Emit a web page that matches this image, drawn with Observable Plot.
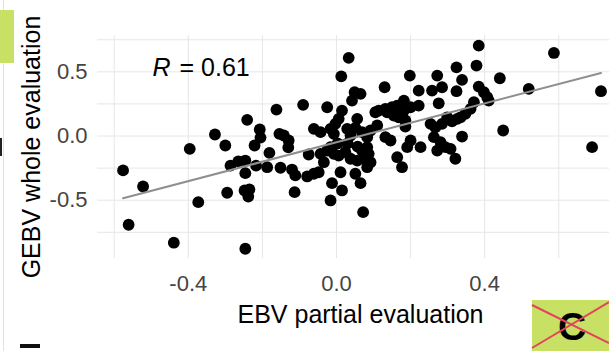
<!DOCTYPE html>
<html>
<head>
<meta charset="utf-8">
<script src="https://cdn.jsdelivr.net/npm/d3@7"></script>
<script src="https://cdn.jsdelivr.net/npm/@observablehq/plot@0.6"></script>
<style>
  html, body { margin: 0; padding: 0; background: #ffffff; }
  #wrap { position: relative; width: 609px; height: 351px; overflow: hidden; font-family: "Liberation Sans", Arial, sans-serif; }
  #deco { position: absolute; left: 0; top: 0; pointer-events: none; }
</style>
</head>
<body>
<div id="wrap">
  <div id="chart"></div>
  <svg id="deco" width="609" height="351" xmlns="http://www.w3.org/2000/svg">
    <line x1="3.5" y1="0" x2="3.5" y2="351" stroke="#e2e2e2" stroke-width="1"/>
    <rect x="0" y="10" width="14" height="53" fill="#c8e064"/>
    <rect x="0" y="138" width="2" height="18" fill="#222"/>
    <rect x="20" y="344" width="20" height="4" fill="#111"/>
    <rect x="532" y="300" width="77" height="51" fill="#c8e064"/>
    <text x="572" y="340" text-anchor="middle" font-family="Liberation Sans, Arial, sans-serif" font-weight="bold" font-size="39" fill="#000">C</text>
    <line x1="532" y1="305" x2="609" y2="343" stroke="#e4435e" stroke-width="2"/>
    <line x1="532" y1="348" x2="609" y2="302" stroke="#e4435e" stroke-width="2"/>
  </svg>
</div>
<script>
// EBV partial evaluation (x) and GEBV whole evaluation (y)
const ebvPartial = [
  -0.576, -0.522, -0.561, -0.439, -0.396, -0.373, -0.328, -0.300, -0.295, -0.246,
  -0.241, -0.286, -0.265, -0.246, -0.246, -0.248, -0.235, -0.238, -0.221, -0.207,
  -0.205, -0.217, -0.187, -0.181, -0.162, -0.154, -0.151, -0.142, -0.129, -0.130,
  -0.120, -0.111, -0.113, -0.090, -0.075, -0.079, -0.061, -0.048, -0.061, -0.043,
  -0.043, -0.034, -0.025, -0.016, -0.007, -0.007, 0.006, -0.003, 0.006, 0.015,
  0.013, 0.033, 0.049, 0.042, 0.029, 0.038, 0.056, 0.051, 0.069, 0.083,
  0.024, 0.038, 0.056, 0.069, 0.074, 0.011, 0.051, -0.012, 0.015, 0.065,
  -0.016, 0.072, 0.065, -0.025, -0.016, 0.003, 0.030, 0.057, 0.083, 0.087,
  0.092, 0.083, 0.092, 0.110, 0.132, 0.146, 0.130, 0.198, 0.272, 0.222,
  0.258, 0.285, 0.276, 0.182, 0.164, 0.150, 0.132, 0.114, 0.105, 0.182,
  0.200, 0.222, 0.137, 0.155, 0.168, 0.186, 0.186, 0.254, 0.267, 0.285,
  0.191, 0.200, 0.263, 0.281, 0.294, 0.227, 0.272, 0.164, 0.177, 0.308,
  0.321, 0.324, 0.339, 0.324, 0.384, 0.378, 0.384, 0.398, 0.407, 0.411,
  0.441, 0.519, 0.587, 0.714, 0.371, 0.362, 0.348, 0.335, 0.326, 0.312,
  0.299, 0.450, 0.339, 0.690
];
const gebvWhole = [
  -0.268, -0.393, -0.691, -0.831, -0.100, -0.515, 0.012, -0.074, -0.442, -0.878,
  0.126, -0.230, -0.198, -0.191, -0.289, -0.424, -0.416, -0.471, -0.074, 0.051,
  -0.012, -0.230, -0.243, -0.131, 0.206, 0.017, -0.247, 0.004, -0.035, -0.089,
  -0.261, -0.307, -0.437, 0.243, -0.144, -0.315, -0.294, -0.282, 0.056, 0.030,
  -0.139, -0.204, 0.224, 0.056, 0.017, -0.139, -0.152, 0.095, 0.134, 0.198,
  0.465, 0.609, 0.341, 0.276, 0.056, 0.004, 0.134, 0.064, 0.030, -0.009,
  -0.126, -0.177, -0.191, -0.113, -0.177, -0.282, -0.294, -0.367, -0.424, -0.367,
  -0.502, -0.593, 0.328, -0.113, -0.087, -0.058, -0.058, -0.082, -0.087, -0.139,
  -0.204, -0.243, 0.043, 0.082, -0.009, -0.035, 0.380, 0.471, 0.471, 0.354,
  0.354, 0.380, 0.255, 0.276, 0.237, 0.224, 0.212, 0.198, 0.185, 0.198,
  0.224, 0.237, 0.185, 0.160, 0.146, 0.121, 0.074, 0.095, 0.068, 0.095,
  -0.087, -0.035, -0.009, -0.048, -0.087, -0.087, -0.113, -0.165, -0.243, -0.100,
  -0.177, 0.535, 0.437, 0.349, 0.704, 0.549, 0.385, 0.341, 0.302, 0.276,
  0.450, 0.367, 0.647, 0.349, 0.263, 0.212, 0.173, 0.146, 0.134, 0.115,
  0.146, 0.043, -0.004, -0.087
];

const xTitle = "EBV partial evaluation";
const yTitle = "GEBV whole evaluation";
const statName = "R";
const statValue = "0.61";

const xDomain = [-0.645, 0.737];
const yDomain = [-0.954, 0.783];
const xTicks = [-0.4, 0, 0.4];
const xTickLabels = ["-0.4", "0.0", "0.4"];
const yTicks = [-0.5, 0, 0.5];
const yTickLabels = ["-0.5", "0.0", "0.5"];
const xGrid = [-0.6, -0.4, -0.2, 0, 0.2, 0.4, 0.6];
const yGrid = [-0.75, -0.5, -0.25, 0, 0.25, 0.5, 0.75];

const points = ebvPartial.map((x, i) => ({x, y: gebvWhole[i]}));

const chart = Plot.plot({
  width: 609,
  height: 351,
  marginLeft: 97,
  marginRight: 0,
  marginTop: 35,
  marginBottom: 93,
  style: {fontFamily: "'Liberation Sans', Arial, sans-serif", background: "transparent"},
  x: {domain: xDomain, label: null},
  y: {domain: yDomain, label: null},
  marks: [
    Plot.gridX(xGrid, {stroke: "#e6e6e6", strokeOpacity: 1, strokeWidth: 1}),
    Plot.gridY(yGrid, {stroke: "#e6e6e6", strokeOpacity: 1, strokeWidth: 1}),
    Plot.axisX(xTicks, {tickSize: 0, tickPadding: 17, fontSize: 22, color: "#444444",
      tickFormat: (d) => xTickLabels[xTicks.indexOf(d)], label: null}),
    Plot.axisY(yTicks, {tickSize: 0, tickPadding: 10, fontSize: 22, color: "#444444",
      tickFormat: (d) => yTickLabels[yTicks.indexOf(d)], label: null}),
    Plot.dot(points, {x: "x", y: "y", r: 5.9, fill: "black", stroke: null}),
    Plot.linearRegressionY(points, {x: "x", y: "y", stroke: "#8f8f8f", strokeWidth: 2, ci: 0}),
    Plot.text([xTitle], {frameAnchor: "bottom", textAnchor: "middle", lineAnchor: "middle", dx: 7, dy: 56, fontSize: 25, fill: "black"}),
    Plot.text([yTitle], {frameAnchor: "left", textAnchor: "middle", lineAnchor: "middle", rotate: -90, dx: -66, dy: 0, fontSize: 25, fill: "black"}),
    Plot.text([statName], {frameAnchor: "top-left", textAnchor: "start", lineAnchor: "middle", dx: 55, dy: 32, fontSize: 25, fontStyle: "italic", fill: "black"}),
    Plot.text(["= " + statValue], {frameAnchor: "top-left", textAnchor: "start", lineAnchor: "middle", dx: 82, dy: 32, fontSize: 25, fill: "black"})
  ]
});
document.getElementById("chart").appendChild(chart);
</script>
</body>
</html>
